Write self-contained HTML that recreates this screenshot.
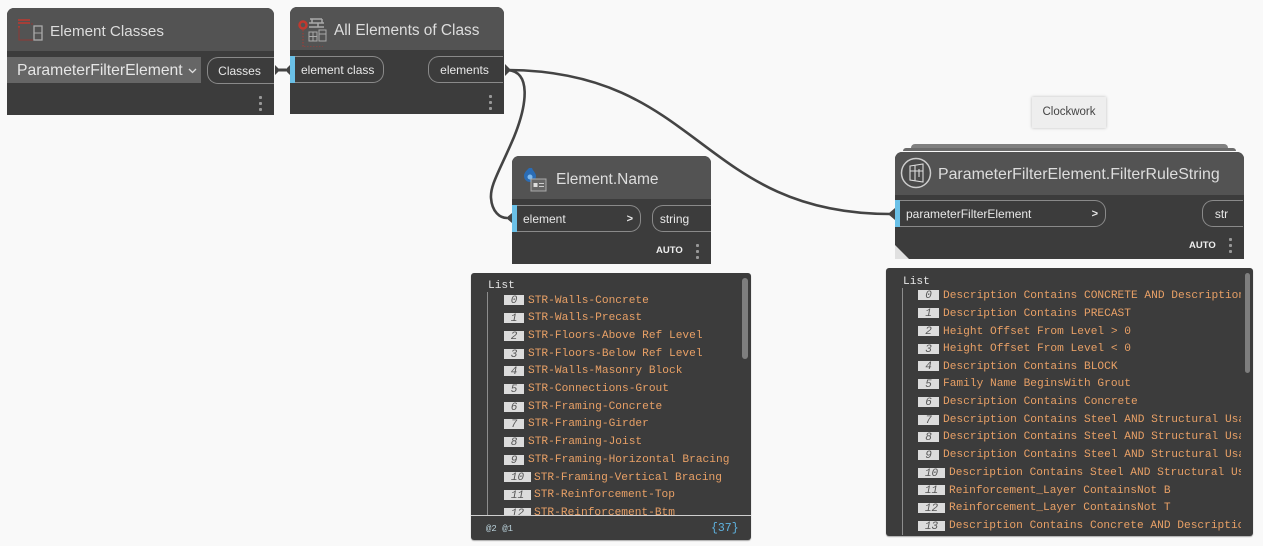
<!DOCTYPE html>
<html><head><meta charset="utf-8">
<style>
html,body{margin:0;padding:0;width:1263px;height:546px;overflow:hidden;background:#f9f9f9}
body{position:relative;font-family:"Liberation Sans",sans-serif}
.a{position:absolute;box-sizing:border-box}
.node{background:#3c3c3c;border-radius:7px 7px 0 0;overflow:hidden}
.hd{position:absolute;left:0;right:0;top:0;background:#535353}
.t{position:absolute;white-space:nowrap;color:#ddd;font-size:15.500px;line-height:18px;margin-top:1px}
.pill{position:absolute;height:27px;border:1px solid #8a8a8a;box-sizing:border-box;color:#e8e8e8;font-size:12px;line-height:26px;white-space:nowrap}
.l{border-radius:0 11px 11px 0;padding-left:6px;border-left:0}
.r{border-radius:11px 0 0 11px;border-right:0;text-align:center}
.blue{position:absolute;left:0;width:5px;height:27px;background:#6ac0e7}
.ch{position:absolute;right:7px;top:0;font-weight:bold;font-size:11px}
.auto{position:absolute;color:#eee;font-size:9.500px;font-weight:bold;line-height:12px}
.dots{position:absolute;width:3px;height:15px;background:radial-gradient(circle at 1.500px 1.500px,#999 1.500px,transparent 1.600px) 0 0/3px 6px repeat-y}
.watch{background:#3c3c3c;border-radius:3px;overflow:hidden;box-shadow:0 1px 1px #aaa;font-family:"Liberation Mono",monospace;font-size:11.200px}
.w{position:absolute;white-space:pre;line-height:14px;color:#e8a066;height:14px;margin-top:1px}
.i{position:absolute;height:10px;background:#dcdcdc;color:#555;font-style:italic;font-size:11px;line-height:12px;text-align:center}
</style></head><body>

<!-- group stack -->
<div class="a" style="left:911px;top:144px;width:317px;height:6px;background:#808080;border-radius:4px 4px 0 0"></div>
<div class="a" style="left:903px;top:148px;width:333px;height:3px;background:#6b6b6b;border-radius:3px 3px 0 0"></div>

<!-- Node 1 -->
<div class="a node" style="left:7px;top:8px;width:267px;height:107px">
 <div class="hd" style="height:43px"></div>
 <svg class="a" style="left:10px;top:11px" width="26" height="24" viewBox="0 0 26 24" fill="none">
  <path d="M1 1h12M1 4h12M1 8h2" stroke="#c0392f" stroke-width="1.600"/><path d="M2 8v13h14M15 4v2" stroke="#8f3a34" stroke-width="1"/>
  <rect x="17" y="7" width="8" height="14" stroke="#aaa" stroke-width="1.300"/><path d="M17 14h8" stroke="#aaa"/></svg>
 <div class="t" style="left:43px;top:14px;font-size:15.200px">Element Classes</div>
 <div class="a" style="left:0;top:49px;width:194px;height:26px;background:#666"></div>
 <div class="t" style="left:10px;top:53px;font-size:15.700px;color:#e6e6e6">ParameterFilterElement</div>
 <svg class="a" style="left:181px;top:60px" width="10" height="6"><path d="M1 1l3.500 3.500L8 1" stroke="#ddd" stroke-width="1.300" fill="none"/></svg>
 <div class="pill r" style="left:200px;top:49px;width:67px;padding-right:3px">Classes</div>
 <div class="dots" style="left:252px;top:88px"></div>
</div>

<!-- Node 2 -->
<div class="a node" style="left:290px;top:7px;width:214px;height:107px">
 <div class="hd" style="height:43px"></div>
 <svg class="a" style="left:8px;top:10px" width="36" height="30" viewBox="0 0 36 30" fill="none">
  <circle cx="5" cy="8" r="3.500" stroke="#c0392f" stroke-width="2.500"/><path d="M5 13v17h20" stroke="#a83a33" stroke-dasharray="1.500 1.500"/>
  <path d="M12 2h12M11 6h15M11 10h15M14 2v4M20 6v4M24 2v4" stroke="#aaa" stroke-width="1.500"/>
  <rect x="11" y="15" width="8" height="9" stroke="#aaa"/><path d="M15 15v9M11 19.500h8" stroke="#aaa"/><rect x="21" y="13" width="7" height="11" stroke="#aaa"/><path d="M21 17h7" stroke="#aaa"/></svg>
 <div class="t" style="left:44px;top:14px;font-size:15.400px">All Elements of Class</div>
 <div class="blue" style="top:49px"></div>
 <div class="pill l" style="left:5px;top:49px;width:89px">element class</div>
 <div class="pill r" style="left:138px;top:49px;width:75px;padding-right:3px">elements</div>
 <div class="dots" style="left:199px;top:88px"></div>
</div>

<!-- Node 3 -->
<div class="a node" style="left:512px;top:156px;width:199px;height:108px">
 <div class="hd" style="height:43px"></div>
 <svg class="a" style="left:11px;top:10px" width="34" height="28" viewBox="0 0 34 28" fill="none">
  <path d="M6 2c-3 3-5 5-5 8a6 6 0 0 0 12 0c0-3-3-5-4-8z" fill="#2a6cb5"/><circle cx="7" cy="11" r="2.500" fill="#7db9ee"/>
  <rect x="8" y="13" width="15" height="12" fill="#666" stroke="#aaa"/><rect x="10.500" y="17" width="4" height="4" fill="#ddd"/><path d="M16 17.500h5M16 20.500h5" stroke="#ccc"/></svg>
 <div class="t" style="left:44px;top:14px;font-size:15.500px">Element.Name</div>
 <div class="blue" style="top:49px"></div>
 <div class="pill l" style="left:5px;top:49px;width:124px">element<span class="ch">&gt;</span></div>
 <div class="pill r" style="left:140px;top:49px;width:59px;padding-right:15px">string</div>
 <div class="auto" style="left:144px;top:89px">AUTO</div>
 <div class="dots" style="left:184px;top:88px"></div>
</div>

<!-- Clockwork -->
<div class="a" style="left:1032px;top:97px;width:74px;height:31px;background:#eee;box-shadow:0 0 3px #bbb;color:#444;font-size:11.500px;line-height:30px;text-align:center">Clockwork</div>

<!-- Node 4 -->
<div class="a node" style="left:895px;top:152px;width:349px;height:107px">
 <div class="hd" style="height:43px"></div>
 <svg class="a" style="left:5px;top:5px" width="33" height="33" viewBox="0 0 33 33" fill="none">
  <circle cx="16" cy="16" r="14.500" stroke="#ccc" stroke-width="1.500" fill="#4a4a4a"/>
  <path d="M10 9l13-2v18l-13-2zM10 14h13M15 8v16M19 12v8" stroke="#ddd" stroke-width="1.100"/></svg>
 <div class="t" style="left:43px;top:13px;font-size:15.900px">ParameterFilterElement.FilterRuleString</div>
 <div class="blue" style="top:48px"></div>
 <div class="pill l" style="left:5px;top:48px;width:206px">parameterFilterElement<span class="ch">&gt;</span></div>
 <div class="pill r" style="left:307px;top:48px;width:41px;padding-right:3px">str</div>
 <div class="auto" style="left:294px;top:88px">AUTO</div>
 <div class="dots" style="left:334px;top:86px"></div>
 <svg class="a" style="left:0;top:93px" width="14" height="14"><path d="M0 0L14 14H0z" fill="#e0e0e0"/></svg>
</div>

<!-- Connectors -->
<svg class="a" style="left:0;top:0;pointer-events:none" width="1263" height="546" fill="none">
 <path d="M506 70C700 70 700 214 890 214" stroke="#444" stroke-width="2.600"/>
 <path d="M506 70C532 70 527 105 514 137C500 170 490 185 491 198C492 212 500 218 507 218" stroke="#444" stroke-width="2.600"/>
 <path d="M278 70H286" stroke="#444" stroke-width="3"/>
 <path d="M275 65l5 5-5 5zM290 65l-5 5 5 5zM505 64l6 6-6 6zM512 213l-6 5 6 5zM895 208l-7 6 7 6z" fill="#444"/>
</svg>

<!-- Watch 1 -->
<div class="a watch" style="left:471px;top:273px;width:280px;height:267px">
 <div class="a" style="left:16px;top:19px;width:1px;height:223px;background:#8d8d8d"></div>
 <div class="a" style="left:271px;top:5px;width:6px;height:81px;background:#7e7e7e;border-radius:3px"></div>
 <div class="w" style="left:17px;top:5px;color:#e6e6e6">List</div>
 <div class="a" style="left:0;top:0;width:280px;height:242px;overflow:hidden">
  <div class="i" style="left:33px;top:22px;width:20px">0</div><div class="w" style="left:57px;top:20px">STR-Walls-Concrete</div>
  <div class="i" style="left:33px;top:40px;width:20px">1</div><div class="w" style="left:57px;top:37px">STR-Walls-Precast</div>
  <div class="i" style="left:33px;top:58px;width:20px">2</div><div class="w" style="left:57px;top:55px">STR-Floors-Above Ref Level</div>
  <div class="i" style="left:33px;top:76px;width:20px">3</div><div class="w" style="left:57px;top:73px">STR-Floors-Below Ref Level</div>
  <div class="i" style="left:33px;top:93px;width:20px">4</div><div class="w" style="left:57px;top:90px">STR-Walls-Masonry Block</div>
  <div class="i" style="left:33px;top:111px;width:20px">5</div><div class="w" style="left:57px;top:108px">STR-Connections-Grout</div>
  <div class="i" style="left:33px;top:129px;width:20px">6</div><div class="w" style="left:57px;top:126px">STR-Framing-Concrete</div>
  <div class="i" style="left:33px;top:146px;width:20px">7</div><div class="w" style="left:57px;top:143px">STR-Framing-Girder</div>
  <div class="i" style="left:33px;top:164px;width:20px">8</div><div class="w" style="left:57px;top:161px">STR-Framing-Joist</div>
  <div class="i" style="left:33px;top:182px;width:20px">9</div><div class="w" style="left:57px;top:179px">STR-Framing-Horizontal Bracing</div>
  <div class="i" style="left:33px;top:199px;width:27px">10</div><div class="w" style="left:63px;top:197px">STR-Framing-Vertical Bracing</div>
  <div class="i" style="left:33px;top:217px;width:27px">11</div><div class="w" style="left:63px;top:214px">STR-Reinforcement-Top</div>
  <div class="i" style="left:33px;top:235px;width:27px">12</div><div class="w" style="left:63px;top:232px">STR-Reinforcement-Btm</div>
 </div>
 <div class="a" style="left:0;top:242px;width:280px;height:1px;background:#cfcfcf"></div>
 <div class="w" style="left:15px;top:248px;color:#b8cfd8;font-size:9px">@2 @1</div>
 <div class="w" style="left:240px;top:248px;color:#5fb3e0;font-size:11.500px">{37}</div>
</div>

<!-- Watch 2 -->
<div class="a watch" style="left:886px;top:268px;width:367px;height:268px">
 <div class="a" style="left:16px;top:20px;width:1px;height:247px;background:#8d8d8d"></div>
 <div class="a" style="left:359px;top:5px;width:5px;height:100px;background:#7e7e7e;border-radius:3px"></div>
 <div class="w" style="left:17px;top:6px;color:#e6e6e6">List</div>
 <div class="a" style="left:0;top:0;width:355px;height:268px;overflow:hidden">
  <div class="i" style="left:32px;top:22px;width:21px">0</div><div class="w" style="left:57px;top:20px">Description Contains CONCRETE AND Description Contains</div>
  <div class="i" style="left:32px;top:40px;width:21px">1</div><div class="w" style="left:57px;top:38px">Description Contains PRECAST</div>
  <div class="i" style="left:32px;top:58px;width:21px">2</div><div class="w" style="left:57px;top:56px">Height Offset From Level &gt; 0</div>
  <div class="i" style="left:32px;top:76px;width:21px">3</div><div class="w" style="left:57px;top:73px">Height Offset From Level &lt; 0</div>
  <div class="i" style="left:32px;top:93px;width:21px">4</div><div class="w" style="left:57px;top:91px">Description Contains BLOCK</div>
  <div class="i" style="left:32px;top:111px;width:21px">5</div><div class="w" style="left:57px;top:108px">Family Name BeginsWith Grout</div>
  <div class="i" style="left:32px;top:129px;width:21px">6</div><div class="w" style="left:57px;top:126px">Description Contains Concrete</div>
  <div class="i" style="left:32px;top:147px;width:21px">7</div><div class="w" style="left:57px;top:144px">Description Contains Steel AND Structural Usage</div>
  <div class="i" style="left:32px;top:164px;width:21px">8</div><div class="w" style="left:57px;top:161px">Description Contains Steel AND Structural Usage</div>
  <div class="i" style="left:32px;top:182px;width:21px">9</div><div class="w" style="left:57px;top:179px">Description Contains Steel AND Structural Usage</div>
  <div class="i" style="left:32px;top:200px;width:27px">10</div><div class="w" style="left:63px;top:197px">Description Contains Steel AND Structural Usage</div>
  <div class="i" style="left:32px;top:217px;width:27px">11</div><div class="w" style="left:63px;top:215px">Reinforcement_Layer ContainsNot B</div>
  <div class="i" style="left:32px;top:235px;width:27px">12</div><div class="w" style="left:63px;top:232px">Reinforcement_Layer ContainsNot T</div>
  <div class="i" style="left:32px;top:253px;width:27px">13</div><div class="w" style="left:63px;top:250px">Description Contains Concrete AND Description</div>
 </div>
</div>
</body></html>
